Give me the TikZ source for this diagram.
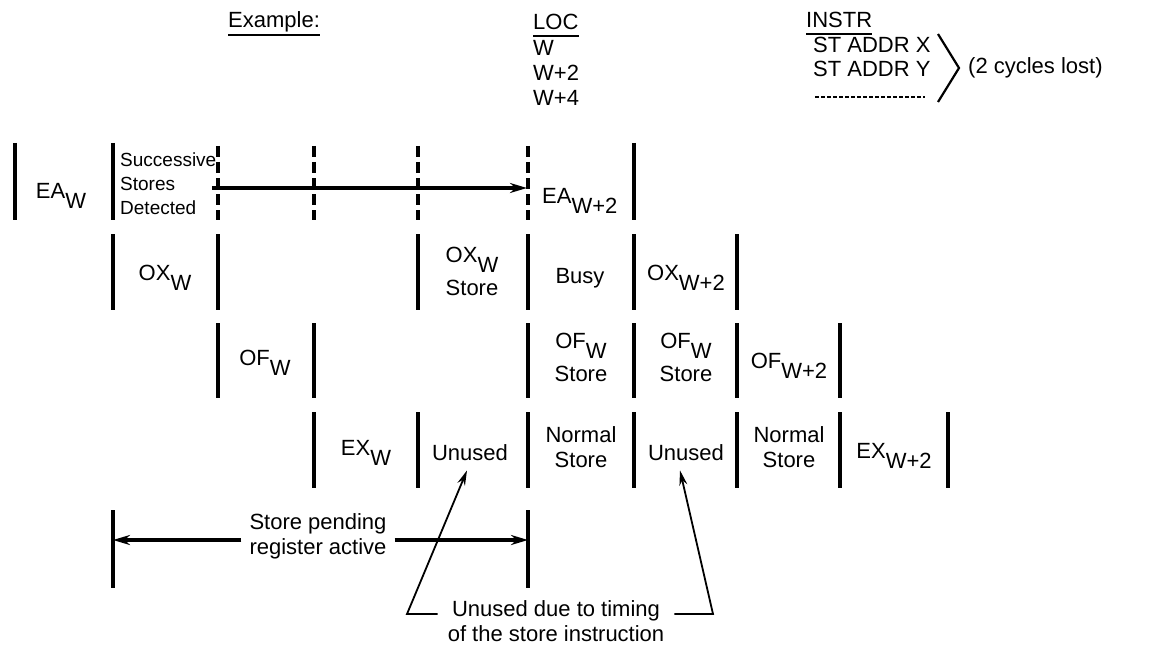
\documentclass[tikz,border=0pt]{standalone}
\usepackage{fontspec}
\setmainfont{Liberation Sans}
\usetikzlibrary{positioning, arrows.meta}

\newcommand{\lowsub}[1]{\raisebox{-10pt}{#1}}

\begin{document}
\begin{tikzpicture}[
        x=1pt, y=-1pt,
        font=\fontsize{22}{25}\selectfont,
        bar/.style={line width=3.2pt},
        dash_bar/.style={line width=3.2pt, dash pattern=on 11pt off 5pt},
        flow/.style={-{Stealth[length=17pt, width=10pt]}, line width=3.4pt},
        pointer/.style={-{Stealth[length=15pt, width=8pt]}, line width=1.8pt, line join=miter},
        under/.style={line width=2.6pt},
        label_text/.style={inner sep=0pt, align=center},
        note_text/.style={inner sep=0pt, align=left, font=\fontsize{19}{24}\selectfont}
    ]
    \useasboundingbox (0,0) rectangle (1154,650);

    % Header
    \node[label_text, anchor=base west] (example) at (228,28) {Example:};
    \draw[under] ([yshift=-7pt]example.base west) -- ([yshift=-7pt]example.base east);

    \node[label_text, anchor=base west] (loc) at (533,30) {LOC};
    \draw[under] ([yshift=-6pt]loc.base west) -- ([yshift=-6pt]loc.base east);
    \node[label_text, anchor=base west] (locw) at (533,56) {W};
    \node[label_text, anchor=base west] (locw2) at (533,81) {W+2};
    \node[label_text, anchor=base west] (locw4) at (533,106) {W+4};

    \node[label_text, anchor=base west] (instr) at (806,28) {INSTR};
    \draw[under] ([yshift=-6pt]instr.base west) -- ([yshift=-6pt]instr.base east);
    \node[label_text, anchor=base west] (stx) at (813,53) {ST ADDR X};
    \node[label_text, anchor=base west] (sty) at (813,77) {ST ADDR Y};
    \coordinate (dashA) at (815,97);
    \coordinate (dashB) at (925,97);
    \draw[line width=1.6pt, dash pattern=on 4pt off 2pt] (dashA) -- (dashB);

    \coordinate (brTop) at (938,34);
    \coordinate (brTip) at (959,68);
    \coordinate (brBot) at (938,102);
    \draw[line width=2.2pt] (brTop) -- (brTip) -- (brBot);
    \node[label_text, anchor=west] (lost) at (968,68) {(2 cycles lost)};

    % Row EA
    \foreach \x in {15,113,634} \draw[bar] (\x,143) -- (\x,220);
    \foreach \x in {218,314,418,528} \draw[dash_bar] (\x,146) -- (\x,220);
    \node[label_text, anchor=base] (eaw) at (61,198) {EA\lowsub{W}};
    \node[note_text, anchor=north west] (detected) at (120,153) {Successive\\Stores\\Detected};
    \node[label_text, anchor=base west] (eaw2) at (542,203) {EA\lowsub{W+2}};
    \coordinate (detectA) at (212,188);
    \coordinate (detectB) at (527,188);
    \draw[flow] (detectA) -- (detectB);

    % Row OX
    \foreach \x in {113,218,418,528,634,737} \draw[bar] (\x,234) -- (\x,310);
    \node[label_text, anchor=base] (oxw) at (165,280) {OX\lowsub{W}};
    \node[label_text, anchor=north] (oxstore) at (472,247) {OX\lowsub{W}\\[7pt]Store};
    \node[label_text, anchor=base] (busy) at (580,283) {Busy};
    \node[label_text, anchor=base] (oxw2) at (686,280) {OX\lowsub{W+2}};

    % Row OF
    \foreach \x in {218,314,528,634,737,840} \draw[bar] (\x,323) -- (\x,398);
    \node[label_text, anchor=base] (ofw) at (265,365) {OF\lowsub{W}};
    \node[label_text, anchor=north] (ofstoreA) at (581,333) {OF\lowsub{W}\\[7pt]Store};
    \node[label_text, anchor=north] (ofstoreB) at (686,333) {OF\lowsub{W}\\[7pt]Store};
    \node[label_text, anchor=base] (ofw2) at (789,368) {OF\lowsub{W+2}};

    % Row EX
    \foreach \x in {314,418,528,634,737,840,948} \draw[bar] (\x,412) -- (\x,488);
    \node[label_text, anchor=base] (exw) at (366,455) {EX\lowsub{W}};
    \node[label_text, anchor=base] (unusedA) at (470,460) {Unused};
    \node[label_text, anchor=north] (normalA) at (581,426) {Normal\\Store};
    \node[label_text, anchor=base] (unusedB) at (686,460) {Unused};
    \node[label_text, anchor=north] (normalB) at (789,426) {Normal\\Store};
    \node[label_text, anchor=base] (exw2) at (894,458) {EX\lowsub{W+2}};

    % Store pending register
    \draw[bar] (113,510) -- (113,588);
    \draw[bar] (528,510) -- (528,588);
    \coordinate (pendL) at (113,540);
    \coordinate (pendR) at (528,540);
    \node[label_text, anchor=north] (pend) at (318,513) {Store pending\\register active};
    \coordinate (pendS) at ([xshift=-8pt]pend.west);
    \coordinate (pendE) at ([xshift=8pt]pend.east);
    \draw[flow] (pendS |- pendL) -- (pendL);
    \draw[flow] (pendE |- pendR) -- (pendR);

    % Unused note
    \node[label_text, anchor=north] (note) at (556,600) {Unused due to timing\\of the store instruction};
    \coordinate (bendA) at (407,614);
    \coordinate (bendB) at (713,614);
    \coordinate (noteA) at ([xshift=-10pt]note.west);
    \coordinate (noteB) at ([xshift=10pt]note.east);
    \draw[pointer] (noteA |- bendA) -- (bendA) -- ([xshift=-3pt, yshift=-10pt]unusedA.south);
    \draw[pointer] (noteB |- bendB) -- (bendB) -- ([xshift=-6pt, yshift=-10pt]unusedB.south);

\end{tikzpicture}
\end{document}
